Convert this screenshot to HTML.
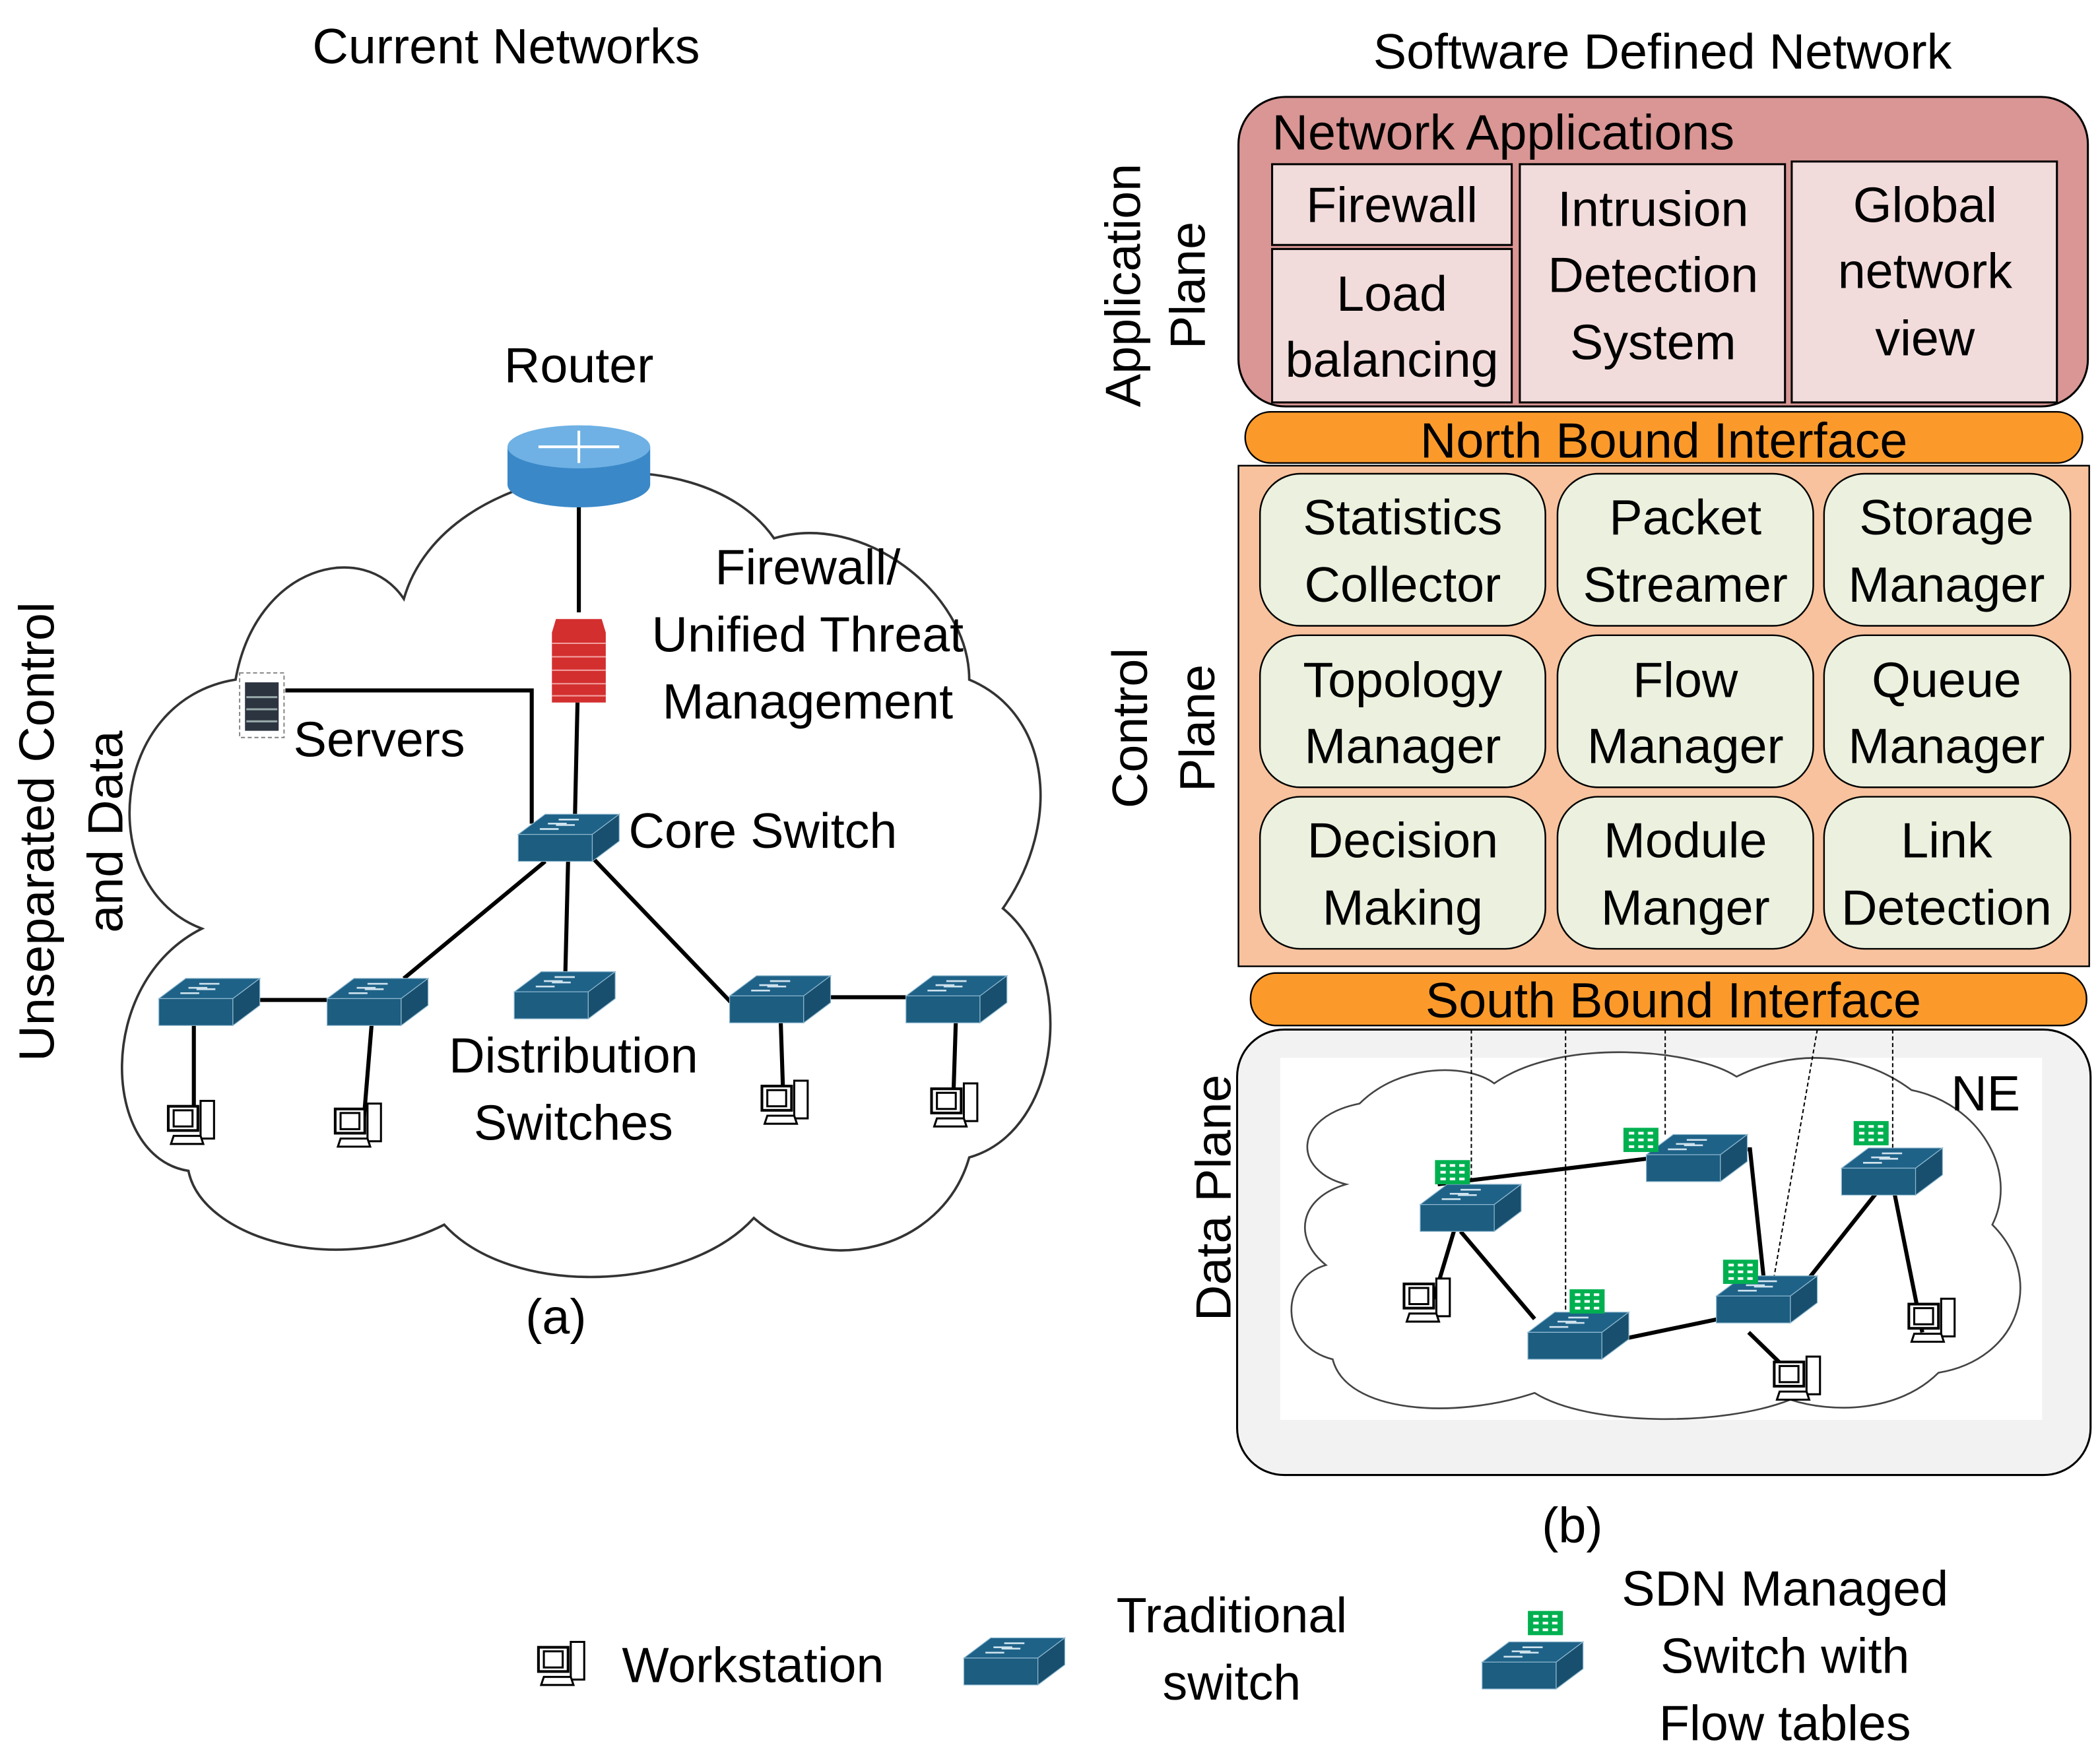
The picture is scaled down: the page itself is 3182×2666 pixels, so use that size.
<!DOCTYPE html>
<html><head><meta charset="utf-8"><style>
html,body{margin:0;padding:0;background:#fff;}
svg{display:block;}
text{font-family:"Liberation Sans",sans-serif;fill:#000;}
</style></head><body>
<svg width="3182" height="2666" viewBox="0 0 1560 1307" xmlns="http://www.w3.org/2000/svg">
<defs>
<g id="sw">
<polygon points="0,15 20,0 75,0 55,15" fill="#1f6288" stroke="#8fb8cf" stroke-width="0.6"/>
<polygon points="0,15 55,15 55,35 0,35" fill="#1c5d80" stroke="#8fb8cf" stroke-width="0.6"/>
<polygon points="55,15 75,0 75,20 55,35" fill="#184f6e" stroke="#8fb8cf" stroke-width="0.6"/>
<g stroke="#cfe3ee" stroke-width="1.3"><line x1="30" y1="4" x2="45" y2="4"/><line x1="22" y1="7" x2="36" y2="7"/><line x1="28" y1="8" x2="42" y2="8"/><line x1="16" y1="11" x2="30" y2="11"/></g>
</g>
<g id="ws">
<rect x="0" y="4" width="22" height="18" fill="#fff" stroke="#000" stroke-width="2"/>
<rect x="24" y="0" width="10" height="28" fill="#fff" stroke="#000" stroke-width="1.5"/>
<rect x="4" y="7" width="14" height="12" fill="#fff" stroke="#000" stroke-width="1.5"/>
<polygon points="2,32 4,26 24,26 26,32" fill="#fff" stroke="#000" stroke-width="1.5"/>
</g>
<g id="tb">
<rect x="0" y="0" width="26" height="18" fill="#00b050"/>
<g fill="#fff"><rect x="4" y="3" width="4" height="2"/><rect x="11" y="3" width="4" height="2"/><rect x="18" y="3" width="4" height="2"/><rect x="4" y="8" width="4" height="2"/><rect x="11" y="8" width="4" height="2"/><rect x="18" y="8" width="4" height="2"/><rect x="4" y="13" width="4" height="2"/><rect x="11" y="13" width="4" height="2"/><rect x="18" y="13" width="4" height="2"/></g>
</g>
</defs>

<!-- LEFT -->
<text x="376" y="47" font-size="37" text-anchor="middle">Current Networks</text>
<path d="M150,690 C70,660 80,520 175,505 C190,420 270,400 300,445 C330,340 520,320 575,400 C640,380 720,440 720,505 C780,530 790,610 745,675 C800,720 790,840 720,860 C700,930 610,950 560,905 C510,960 380,965 330,910 C250,950 150,920 140,870 C75,860 70,730 150,690 Z" fill="#fff" stroke="#333" stroke-width="1.8"/>
<text x="430" y="284" font-size="37" text-anchor="middle">Router</text>
<line x1="430" y1="370" x2="430" y2="455" stroke="#000" stroke-width="3"/>
<line x1="429" y1="522" x2="427" y2="612" stroke="#000" stroke-width="3"/>
<polyline points="212,513 395,513 395,612" fill="none" stroke="#000" stroke-width="3"/>
<path d="M377,332 L377,360 A53,17 0 0 0 483,360 L483,332 Z" fill="#3a88c8"/>
<ellipse cx="430" cy="332" rx="53" ry="16" fill="#6fb1e4"/>
<g stroke="#fff" stroke-width="2"><line x1="400" y1="332" x2="460" y2="332"/><line x1="430" y1="320" x2="430" y2="344"/></g>
<path d="M413,460 L447,460 L450,470 L450,522 L410,522 L410,470 Z" fill="#d32f2f"/>
<g stroke="#f3a0a0" stroke-width="1"><line x1="410" y1="478" x2="450" y2="478"/><line x1="410" y1="488" x2="450" y2="488"/><line x1="410" y1="498" x2="450" y2="498"/><line x1="410" y1="508" x2="450" y2="508"/><line x1="410" y1="517" x2="450" y2="517"/></g>
<rect x="178" y="500" width="33" height="48" fill="#fff" stroke="#888" stroke-dasharray="3,2"/>
<rect x="182" y="507" width="25" height="36" fill="#2c3440"/>
<g stroke="#9aa" stroke-width="1.5"><line x1="183" y1="518" x2="206" y2="518"/><line x1="183" y1="527" x2="206" y2="527"/><line x1="183" y1="536" x2="206" y2="536"/></g>
<text x="600" y="434" font-size="37" text-anchor="middle">Firewall/</text>
<text x="600" y="484" font-size="37" text-anchor="middle">Unified Threat</text>
<text x="600" y="534" font-size="37" text-anchor="middle">Management</text>
<text x="218" y="562" font-size="37">Servers</text>
<text x="467" y="630" font-size="37">Core Switch</text>
<g stroke="#000" stroke-width="3">
<line x1="405" y1="640" x2="300" y2="727"/><line x1="422" y1="640" x2="420" y2="722"/><line x1="435" y1="632" x2="548" y2="750"/>
<line x1="193" y1="743" x2="243" y2="743"/><line x1="617" y1="741" x2="673" y2="741"/>
<line x1="144" y1="762" x2="144" y2="835"/><line x1="276" y1="762" x2="270" y2="835"/><line x1="580" y1="760" x2="582" y2="820"/><line x1="710" y1="760" x2="708" y2="822"/>
</g>
<use href="#sw" x="385" y="605"/>
<use href="#sw" x="118" y="727"/><use href="#sw" x="243" y="727"/><use href="#sw" x="382" y="722"/><use href="#sw" x="542" y="725"/><use href="#sw" x="673" y="725"/>
<use href="#ws" x="125" y="818"/><use href="#ws" x="249" y="820"/><use href="#ws" x="566" y="803"/><use href="#ws" x="692" y="805"/>
<text x="426" y="797" font-size="37" text-anchor="middle">Distribution</text>
<text x="426" y="847" font-size="37" text-anchor="middle">Switches</text>
<text x="413" y="991" font-size="37" text-anchor="middle">(a)</text>
<text transform="translate(40,618) rotate(-90)" font-size="37" text-anchor="middle">Unseparated Control</text>
<text transform="translate(91,618) rotate(-90)" font-size="37" text-anchor="middle">and Data</text>

<!-- RIGHT -->
<text x="1235" y="51" font-size="37" text-anchor="middle">Software Defined Network</text>
<text transform="translate(847,212) rotate(-90)" font-size="37" text-anchor="middle">Application</text>
<text transform="translate(895,212) rotate(-90)" font-size="37" text-anchor="middle">Plane</text>
<text transform="translate(852,541) rotate(-90)" font-size="37" text-anchor="middle">Control</text>
<text transform="translate(902,541) rotate(-90)" font-size="37" text-anchor="middle">Plane</text>
<text transform="translate(914,890) rotate(-90)" font-size="37" text-anchor="middle">Data Plane</text>

<rect x="920" y="72" width="631" height="230" rx="35" fill="#d99694" stroke="#000" stroke-width="1.5"/>
<text x="945" y="111" font-size="37">Network Applications</text>
<g fill="#f2dcdb" stroke="#000" stroke-width="1.5">
<rect x="945" y="122" width="178" height="60"/><rect x="945" y="185" width="178" height="114"/>
<rect x="1129" y="122" width="197" height="177"/><rect x="1331" y="120" width="197" height="179"/>
</g>
<g font-size="37" text-anchor="middle">
<text x="1034" y="165">Firewall</text>
<text x="1034" y="231">Load</text><text x="1034" y="280">balancing</text>
<text x="1228" y="168">Intrusion</text><text x="1228" y="217">Detection</text><text x="1228" y="267">System</text>
<text x="1430" y="165">Global</text><text x="1430" y="214">network</text><text x="1430" y="264">view</text>
</g>
<rect x="925" y="306" width="622" height="38" rx="19" fill="#fb9a2b" stroke="#000" stroke-width="1.2"/>
<text x="1236" y="340" font-size="37" text-anchor="middle">North Bound Interface</text>
<rect x="920" y="346" width="632" height="372" fill="#f7c29d" stroke="#000" stroke-width="1.2"/>
<g fill="#ebf1de" stroke="#000" stroke-width="1.2">
<rect x="936" y="352" width="212" height="113" rx="30"/><rect x="1157" y="352" width="190" height="113" rx="30"/><rect x="1355" y="352" width="183" height="113" rx="30"/>
<rect x="936" y="472" width="212" height="113" rx="30"/><rect x="1157" y="472" width="190" height="113" rx="30"/><rect x="1355" y="472" width="183" height="113" rx="30"/>
<rect x="936" y="592" width="212" height="113" rx="30"/><rect x="1157" y="592" width="190" height="113" rx="30"/><rect x="1355" y="592" width="183" height="113" rx="30"/>
</g>
<g font-size="37" text-anchor="middle">
<text x="1042" y="397">Statistics</text><text x="1042" y="447">Collector</text>
<text x="1252" y="397">Packet</text><text x="1252" y="447">Streamer</text>
<text x="1446" y="397">Storage</text><text x="1446" y="447">Manager</text>
<text x="1042" y="518">Topology</text><text x="1042" y="567">Manager</text>
<text x="1252" y="518">Flow</text><text x="1252" y="567">Manager</text>
<text x="1446" y="518">Queue</text><text x="1446" y="567">Manager</text>
<text x="1042" y="637">Decision</text><text x="1042" y="687">Making</text>
<text x="1252" y="637">Module</text><text x="1252" y="687">Manger</text>
<text x="1446" y="637">Link</text><text x="1446" y="687">Detection</text>
</g>
<rect x="929" y="723" width="621" height="39" rx="19" fill="#fb9a2b" stroke="#000" stroke-width="1.2"/>
<text x="1243" y="756" font-size="37" text-anchor="middle">South Bound Interface</text>
<rect x="919" y="765" width="634" height="331" rx="35" fill="#f2f2f2" stroke="#000" stroke-width="1.5"/>
<rect x="951" y="786" width="566" height="269" fill="#fff"/>
<path d="M1000,880 C960,870 960,830 1010,820 C1040,790 1090,790 1110,805 C1160,770 1260,780 1290,800 C1330,780 1380,780 1420,810 C1470,820 1500,870 1480,910 C1520,950 1500,1010 1440,1020 C1410,1050 1360,1050 1330,1040 C1280,1060 1180,1060 1140,1035 C1080,1055 1000,1050 990,1010 C950,1000 950,950 985,940 C960,920 965,890 1000,880 Z" fill="#fff" stroke="#444" stroke-width="1.3"/>
<text x="1475" y="825" font-size="37" text-anchor="middle">NE</text>
<g stroke="#000" stroke-width="1" stroke-dasharray="3,2" fill="none">
<line x1="1093" y1="765" x2="1093" y2="880"/><line x1="1163" y1="765" x2="1163" y2="975"/><line x1="1237" y1="765" x2="1237" y2="843"/><line x1="1350" y1="765" x2="1318" y2="948"/><line x1="1406" y1="765" x2="1406" y2="853"/>
</g>
<g stroke="#000" stroke-width="3">
<line x1="1068" y1="880" x2="1223" y2="861"/><polyline points="1285,854 1300,854 1310,948" fill="none"/>
<line x1="1085" y1="915" x2="1140" y2="980"/><line x1="1205" y1="995" x2="1277" y2="980"/>
<line x1="1342" y1="952" x2="1395" y2="885"/><line x1="1407" y1="885" x2="1428" y2="990"/>
<line x1="1299" y1="990" x2="1340" y2="1030"/><line x1="1080" y1="915" x2="1065" y2="965"/>
</g>
<use href="#sw" x="1055" y="880"/><use href="#sw" x="1223" y="843"/><use href="#sw" x="1368" y="853"/><use href="#sw" x="1135" y="975"/><use href="#sw" x="1275" y="948"/>
<use href="#tb" x="1066" y="862"/><use href="#tb" x="1206" y="838"/><use href="#tb" x="1377" y="833"/><use href="#tb" x="1166" y="958"/><use href="#tb" x="1280" y="936"/>
<use href="#ws" x="1043" y="950"/><use href="#ws" x="1318" y="1008"/><use href="#ws" x="1418" y="965"/>
<text x="1168" y="1146" font-size="37" text-anchor="middle">(b)</text>

<!-- LEGEND -->
<use href="#ws" x="400" y="1220"/>
<text x="462" y="1250" font-size="37">Workstation</text>
<use href="#sw" x="716" y="1217"/>
<text x="915" y="1213" font-size="37" text-anchor="middle">Traditional</text>
<text x="915" y="1263" font-size="37" text-anchor="middle">switch</text>
<use href="#tb" x="1135" y="1197"/>
<use href="#sw" x="1101" y="1220"/>
<text x="1326" y="1193" font-size="37" text-anchor="middle">SDN Managed</text>
<text x="1326" y="1243" font-size="37" text-anchor="middle">Switch with</text>
<text x="1326" y="1293" font-size="37" text-anchor="middle">Flow tables</text>
</svg>
</body></html>
